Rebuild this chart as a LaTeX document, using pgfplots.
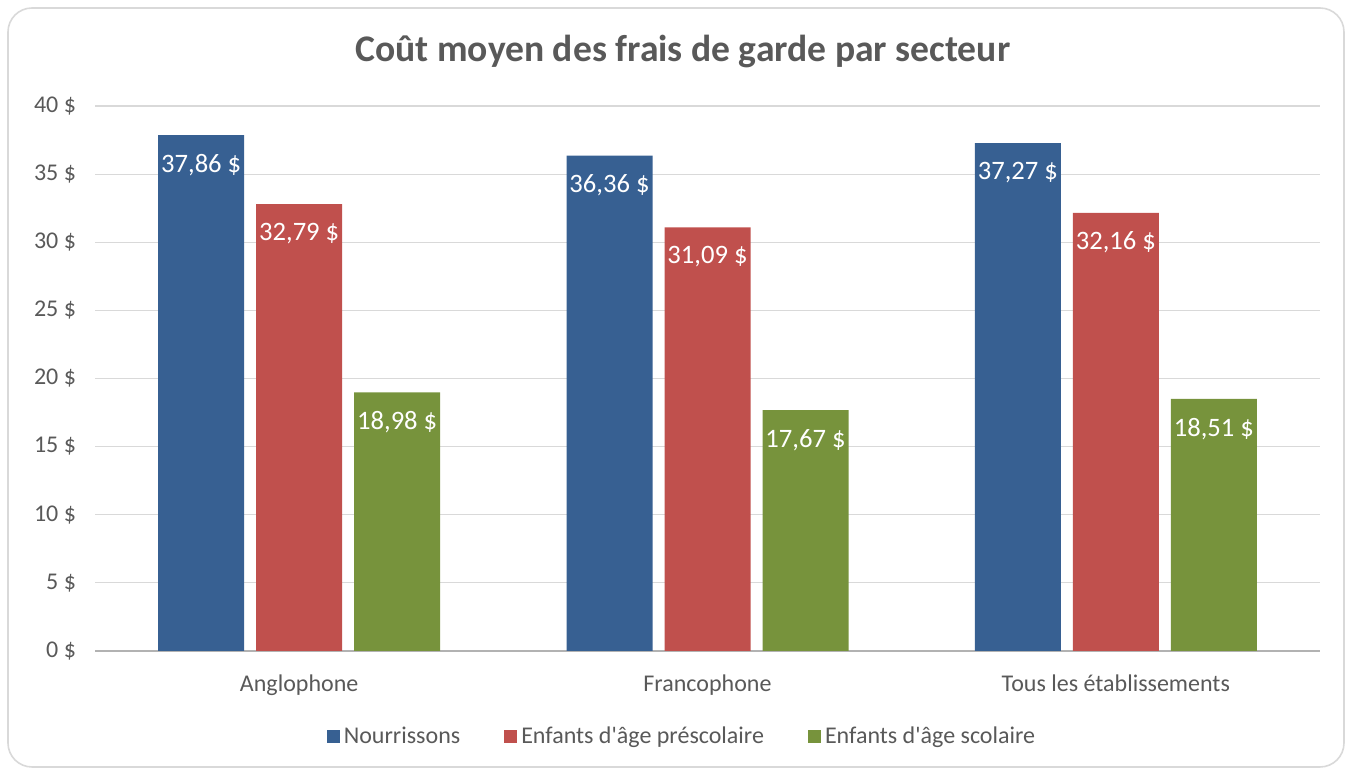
\documentclass[border=0pt]{standalone}
\usepackage{pgfplots}
\pgfplotsset{compat=1.18}
\usepackage{fontspec}
\setmainfont{Carlito}
\definecolor{cblue}{HTML}{376092}
\definecolor{cred}{HTML}{C0504D}
\definecolor{cgreen}{HTML}{77933C}
\definecolor{tgray}{HTML}{595959}
\definecolor{ggray}{HTML}{D9D9D9}
\begin{document}
\begin{tikzpicture}
\useasboundingbox (0pt,0pt) rectangle (675.5pt,384.5pt);
\draw[ggray,line width=0.8pt,rounded corners=12pt] (4pt,1pt) rectangle (672pt,380.5pt);
\begin{axis}[
  at={(47.5pt,59pt)}, anchor=south west,
  scale only axis, width=612.5pt, height=272.5pt,
  ybar=6pt, bar width=43pt,
  xmin=-0.5, xmax=2.5, ymin=0, ymax=40,
  xtick={0,1,2}, xticklabels={Anglophone,Francophone,Tous les établissements},
  ytick={0,5,...,40},
  yticklabel={\pgfmathprintnumber{\tick}~\$},
  /pgf/number format/assume math mode=true,
  ymajorgrids, grid style={ggray, line width=0.6pt},
  axis line style={draw=none},
  axis x line*=bottom, axis y line*=left,
  extra y ticks={0}, extra y tick labels={},
  extra y tick style={grid style={color=gray!60,line width=0.7pt}},
  major tick length=0pt,
  tick label style={font=\fontsize{12}{14}\selectfont, text=tgray},
  yticklabel style={xshift=-6pt},
  xticklabel style={yshift=-8.5pt},
  title={\bfseries Coût moyen des frais de garde par secteur},
  title style={font=\fontsize{18.8}{22}\selectfont, text=tgray, at={(0.48,1)}, anchor=center, yshift=21pt},
  nodes near coords={\pgfmathprintnumber[fixed,fixed zerofill,precision=2,use comma]{\pgfplotspointmeta}~\$},
  nodes near coords style={font=\fontsize{13.3}{15}\selectfont, text=white, anchor=north, yshift=-6pt, /pgf/number format/assume math mode=true},
  legend style={at={(0.48,0)}, anchor=center, yshift=-43pt, draw=none, font=\fontsize{12}{14}\selectfont, text=tgray, legend columns=-1, /tikz/every even column/.append style={column sep=20pt}, /tikz/every odd column/.append style={column sep=0pt}},
  legend image code/.code={\fill[#1] (0pt,-3.25pt) rectangle (6.5pt,3.25pt);},
]
\addplot[fill=cblue, draw=none] coordinates {(0,37.86) (1,36.36) (2,37.27)};
\addplot[fill=cred, draw=none] coordinates {(0,32.79) (1,31.09) (2,32.16)};
\addplot[fill=cgreen, draw=none] coordinates {(0,18.98) (1,17.67) (2,18.51)};
\legend{Nourrissons, Enfants d\textquotesingle âge préscolaire, Enfants d\textquotesingle âge scolaire}
\end{axis}
\end{tikzpicture}
\end{document}
